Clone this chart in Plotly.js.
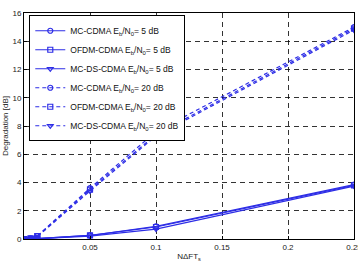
<!DOCTYPE html>
<html><head><meta charset="utf-8">
<script src="https://cdn.plot.ly/plotly-3.0.1.min.js"></script>
<style>html,body{margin:0;padding:0;background:#fff;}#c{width:358px;height:262px;}</style>
</head><body><div id="c"></div>
<script>
const xVals = [0, 0.005, 0.01, 0.05, 0.1, 0.25];
const mc5 = [0, 0.01, 0.02, 0.25, 0.9, 3.85];
const ofdm5 = [0, 0.01, 0.02, 0.25, 0.85, 3.8];
const mcds5 = [0, 0.01, 0.02, 0.2, 0.7, 3.75];
const mc20 = [0, 0.05, 0.2, 3.6, 7.6, 15.0];
const ofdm20 = [0, 0.05, 0.2, 3.5, 7.4, 14.9];
const mcds20 = [0, 0.05, 0.15, 3.4, 7.3, 14.8];
const names = [
  'MC-CDMA E<sub>b</sub>/N<sub>0</sub>= 5 dB',
  'OFDM-CDMA E<sub>b</sub>/N<sub>0</sub>= 5 dB',
  'MC-DS-CDMA E<sub>b</sub>/N<sub>0</sub>= 5 dB',
  'MC-CDMA E<sub>b</sub>/N<sub>0</sub>= 20 dB',
  'OFDM-CDMA E<sub>b</sub>/N<sub>0</sub>= 20 dB',
  'MC-DS-CDMA E<sub>b</sub>/N<sub>0</sub>= 20 dB'
];
const xTicks = [0.05, 0.1, 0.15, 0.2, 0.25];
const yTicks = [0, 2, 4, 6, 8, 10, 12, 14, 16];

const col = 'rgb(45,45,230)';
const series = [mc5, ofdm5, mcds5, mc20, ofdm20, mcds20];
const symbols = ['circle-open', 'square-open', 'triangle-down-open'];
const traces = series.map((ys, i) => ({
  x: xVals, y: ys, name: names[i], type: 'scatter', mode: 'lines+markers',
  line: {color: col, width: 1.2, dash: i < 3 ? 'solid' : '4px,3px'},
  marker: {symbol: symbols[i % 3], size: 5, color: col, line: {color: col, width: 1.2}}
}));

const layout = {
  width: 358, height: 262,
  margin: {l: 24, r: 4, t: 13, b: 23},
  paper_bgcolor: '#fff', plot_bgcolor: '#fff',
  font: {family: 'Liberation Sans, Arial, sans-serif', size: 8, color: '#222'},
  showlegend: true,
  legend: {x: 0.016, y: 0.99, xanchor: 'left', yanchor: 'top',
    bordercolor: '#000', borderwidth: 1, bgcolor: '#fff',
    font: {size: 8.5, color: '#111'}, tracegroupgap: 0},
  xaxis: {range: [0, 0.25], tickvals: xTicks, ticktext: xTicks.map(String),
    ticklabeloverflow: 'allow',
    showgrid: true, gridcolor: '#000', griddash: '5px,4px', gridwidth: 0.8,
    showline: true, linecolor: '#000', linewidth: 1, mirror: true,
    ticks: 'inside', ticklen: 3, tickcolor: '#000', zeroline: false,
    title: {text: 'NΔFT<sub>s</sub>', font: {size: 8, color: '#222'}, standoff: 3}},
  yaxis: {range: [0, 16], tickvals: yTicks,
    showgrid: true, gridcolor: '#000', griddash: '5px,4px', gridwidth: 0.8,
    showline: true, linecolor: '#000', linewidth: 1, mirror: true,
    ticks: 'inside', ticklen: 3, tickcolor: '#000', zeroline: false,
    title: {text: 'Degradation [dB]', font: {size: 8, color: '#222'}, standoff: 2}}
};
Plotly.newPlot('c', traces, layout, {displayModeBar: false, staticPlot: true});
</script></body></html>
